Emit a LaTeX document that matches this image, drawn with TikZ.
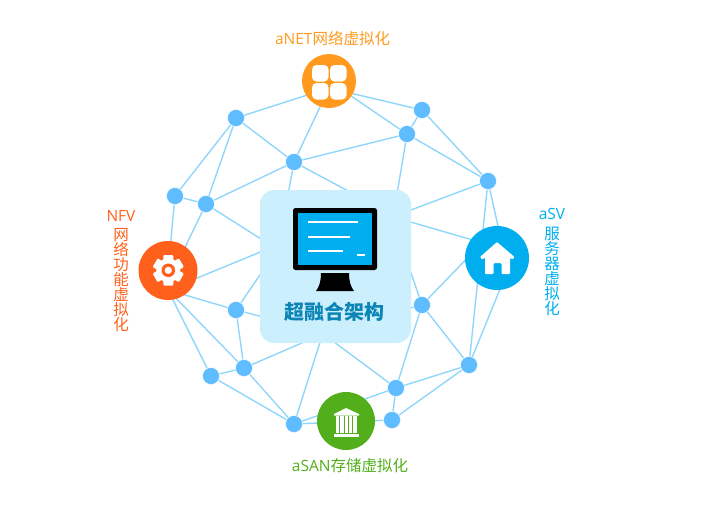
\documentclass[tikz,border=0pt]{standalone}
\usepackage{fontspec}
\setmainfont{Open Sans}
\newfontfamily\cjk{Noto Sans CJK SC}
\AtBeginDocument{\lineskiplimit=-10pt\relax}
\definecolor{edgec}{HTML}{8FD6FA}
\definecolor{dotc}{HTML}{5FBDFF}
\definecolor{orangec}{HTML}{FF9A1F}
\definecolor{redc}{HTML}{FF611C}
\definecolor{bluec}{HTML}{00AEEF}
\definecolor{greenc}{HTML}{52AE1B}
\definecolor{boxc}{HTML}{CCEFFD}
\definecolor{titlec}{HTML}{0A85B5}
\pgfdeclarelayer{bg}
\pgfsetlayers{bg,main}
\tikzset{
  x=1pt,y=-1pt,
  dot/.style={circle,fill=dotc,draw=white,line width=0.4pt,minimum size=17pt,inner sep=0pt},
  hub/.style={circle,inner sep=0pt},
  link/.style={draw=edgec,line width=1.4pt},
  lbl/.style={inner sep=0pt,font=\fontsize{15.5}{15.5}\selectfont},
  vlbl/.style={inner sep=0pt,align=center,font=\fontsize{15.5}{15}\selectfont\cjk},
}
\begin{document}
\begin{tikzpicture}
\useasboundingbox (0,0) rectangle (705,504);
\node[hub,minimum size=54pt,fill=orangec] (anet) at (329,81) {};
\node[hub,minimum size=59pt,fill=redc] (nfv) at (168,270.5) {};
\node[hub,minimum size=64pt,fill=bluec] (asv) at (497,258) {};
\node[hub,minimum size=58pt,fill=greenc] (asan) at (346,421) {};
\foreach \n/\x/\y in {n1/236/118,n2/422/110,n3/407/134,n4/294/162,n5/488/181,n6/175/196,n7/206/204,n8/236/310,n9/422/305,n10/244/368,n11/211/376,n12/396/388,n13/469/365,n14/294/424,n15/392/420}
  \node[dot] (\n) at (\x,\y) {};
% connector ends hidden behind the discs
\coordinate (anetb) at (329,88);
\coordinate (nfvb) at (168,290);
\coordinate (nfvt) at (174,270);
\coordinate (asvt) at (505,258);
\coordinate (asvb) at (512,260);
\coordinate (asvl) at (490,245);
\coordinate (asvu) at (480,245);
% connector ends hidden behind the central box
\coordinate (b1) at (287,200);
\coordinate (b2) at (365,200);
\coordinate (b3) at (396,200);
\coordinate (b4) at (395,216);
\coordinate (b6) at (395,217.5);
\coordinate (b7) at (400,241);
\coordinate (b8) at (395,312);
\coordinate (b9) at (322,333);
\coordinate (b10) at (325,333);
\coordinate (b11) at (323,333);
\coordinate (b12) at (275,320);
\coordinate (b13) at (275,253);
\coordinate (b14) at (275,246);
\coordinate (b15) at (275,248);
\begin{pgfonlayer}{bg}
\foreach \a/\b in {anetb/n1,anetb/n2,anet/n3,anetb/n4,n1/n4,n1/n6,n1/n7,n7/nfvt,n6/nfv,n6/n7,n7/n4,n4/n3,n3/n2,n3/n5,n2/n5,n5/asvt,n5/n13,asvb/n13,asvu/n9,n9/n13,n9/n12,n13/n12,n13/n15,n12/n15,n14/n12,n14/n15,n14/n10,n14/n11,n10/n11,n10/n8,n8/nfvb,nfvb/n10,nfvb/n11,n4/b1,n4/b2,n3/b3,n5/b4,asvl/b6,n9/b7,n9/b8,n12/b9,n14/b11,n10/b10,n8/b12,n8/b13,nfvb/b14,n7/b15}
  \draw[link] (\a) -- (\b);
\end{pgfonlayer}
% central box
\node[draw=none,fill=boxc,rounded corners=14pt,minimum width=151pt,minimum height=153pt,inner sep=0pt] (core) at (335.5,266.5) {};
% monitor
\fill[black,rounded corners=2.5pt] (293,208) rectangle (377,270);
\fill[bluec] (298,213) rectangle (372,265);
\foreach \y/\e in {222/358,237/350,251/343}
  \fill[white] (308,\y-1.4) rectangle (\e,\y+1.4);
\fill[white] (357,253.5) rectangle (365,256.3);
\fill[black] (321,273) -- (349,273) .. controls (349,282) and (351,287) .. (354,291) -- (316,291) .. controls (319,287) and (321,282) .. (321,273) -- cycle;
\node[inner sep=0pt,text=titlec,font=\fontsize{20}{20}\selectfont\cjk\bfseries] (title) at (334.5,312) {超融合架构};
% aNET icon
\foreach \x/\y in {312/65,330/65,312/83,330/83}
  \fill[white,rounded corners=4.5pt] (\x,\y) rectangle (\x+16.5,\y+16.5);
% gear
\foreach \a in {0,60,...,300}
  \fill[white,rounded corners=1pt,shift={(168.3,270.3)},rotate=\a] (-5,-15.2) rectangle (5,-8);
\fill[white] (168.3,270.3) circle (12);
\fill[redc] (168.3,270.3) circle (6.8);
\fill[white] (168.3,270.3) circle (3.6);
% house
\fill[white,rounded corners=1pt] (497,242) -- (514.5,257) -- (512.5,259.5) -- (510,257.5) -- (510,274) -- (501.5,274) -- (501.5,263) -- (493.5,263) -- (493.5,274) -- (485,274) -- (485,257.5) -- (482,259.5) -- (480,257) -- cycle;
% bank
\fill[white] (346,408) -- (359,414) -- (359,415.5) -- (334,415.5) -- (334,414) -- cycle;
\foreach \x in {336,340.3,344.6,348.9,353.2}
  \fill[white] (\x,416) rectangle (\x+3.4,432.5);
\fill[white] (334,434) rectangle (359,436.5);
% labels
\node[lbl,text=orangec] (tnet) at (332.5,39) {aNET{\cjk 网络虚拟化}};
\node[lbl,text=greenc] (tsan) at (350,465.5) {aSAN{\cjk 存储虚拟化}};
\node[lbl,text=redc] (tnfv) at (121,216) {NFV};
\node[lbl,text=bluec] (tsv) at (552,214) {aSV};
\node[vlbl,text=redc,anchor=north] (vnfv) at (121,228) {网\\络\\功\\能\\虚\\拟\\化};
\node[vlbl,text=bluec,anchor=north] (vsv) at (552,227) {服\\务\\器\\虚\\拟\\化};
\end{tikzpicture}
\end{document}
